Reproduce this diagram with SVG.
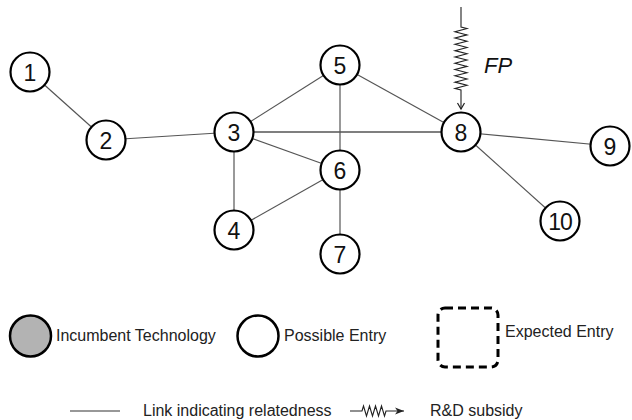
<svg xmlns="http://www.w3.org/2000/svg" width="632" height="420" viewBox="0 0 632 420">
<style>
.edge{stroke:#555;stroke-width:1.2;fill:none}
.node circle{fill:#fff;stroke:#000;stroke-width:2.2}
.num{font-family:"Liberation Sans",Arial,sans-serif;font-size:23px;fill:#111;text-anchor:middle}
.lbl{font-family:"Liberation Sans",Arial,sans-serif;font-size:16px;fill:#222}
.zz{stroke:#222;stroke-width:1.1;fill:none}
</style>
<defs>
<marker id="openArrow" markerWidth="10" markerHeight="10" refX="8" refY="5" orient="auto" markerUnits="userSpaceOnUse">
<path d="M2,1.5 L8,5 L2,8.5" fill="none" stroke="#222" stroke-width="1.2"/>
</marker>
<marker id="solidArrow" markerWidth="12" markerHeight="10" refX="9" refY="5" orient="auto" markerUnits="userSpaceOnUse">
<path d="M0,1.5 L9,5 L0,8.5 L2.5,5 Z" fill="#222"/>
</marker>
</defs>
<g id="connectors">
<line class="edge" x1="30" y1="72" x2="106" y2="140"/>
<line class="edge" x1="106" y1="140" x2="234" y2="132"/>
<line class="edge" x1="234" y1="132" x2="340" y2="65"/>
<line class="edge" x1="234" y1="132" x2="461" y2="132" style="stroke-width:1.6"/>
<line class="edge" x1="234" y1="132" x2="340" y2="170"/>
<line class="edge" x1="234" y1="132" x2="234" y2="230"/>
<line class="edge" x1="340" y1="65" x2="340" y2="170"/>
<line class="edge" x1="340" y1="65" x2="461" y2="132"/>
<line class="edge" x1="234" y1="230" x2="340" y2="170"/>
<line class="edge" x1="340" y1="170" x2="340" y2="254"/>
<line class="edge" x1="461" y1="132" x2="610" y2="146"/>
<line class="edge" x1="461" y1="132" x2="560" y2="221"/>
<path id="fp-arrow" class="zz" marker-end="url(#openArrow)" d="M461,7 V27 l6,1.575 l-12,3.15 l12,3.15 l-12,3.15 l12,3.15 l-12,3.15 l12,3.15 l-12,3.15 l12,3.15 l-12,3.15 l12,3.15 l-12,3.15 l12,3.15 l-12,3.15 l12,3.15 l-12,3.15 l12,3.15 l-12,3.15 l12,3.15 l-12,3.15 l6,1.575 V109"/>
</g>
<text x="484" y="73" style="font-family:'Liberation Sans',Arial,sans-serif;font-size:22px;font-style:italic;fill:#111">FP</text>
<g id="node1" class="node"><circle cx="30" cy="72" r="19.5"/><text class="num" x="30" y="80.5">1</text></g>
<g id="node2" class="node"><circle cx="106" cy="140" r="19.5"/><text class="num" x="106" y="148.5">2</text></g>
<g id="node3" class="node"><circle cx="234" cy="132" r="19.5"/><text class="num" x="234" y="140.5">3</text></g>
<g id="node4" class="node"><circle cx="234" cy="230" r="19.5"/><text class="num" x="234" y="238.5">4</text></g>
<g id="node5" class="node"><circle cx="340" cy="65" r="19.5"/><text class="num" x="340" y="73.5">5</text></g>
<g id="node6" class="node"><circle cx="340" cy="170" r="19.5"/><text class="num" x="340" y="178.5">6</text></g>
<g id="node7" class="node"><circle cx="340" cy="254" r="19.5"/><text class="num" x="340" y="262.5">7</text></g>
<g id="node8" class="node"><circle cx="461" cy="132" r="19.5"/><text class="num" x="461" y="140.5">8</text></g>
<g id="node9" class="node"><circle cx="610" cy="146" r="19.5"/><text class="num" x="610" y="154.5">9</text></g>
<g id="node10" class="node"><circle cx="560" cy="221" r="19.5"/><text class="num" x="560" y="229.5" style="letter-spacing:-1px">10</text></g>
<g id="legend">
<circle cx="30.5" cy="336" r="20.5" fill="#b3b3b3" stroke="#000" stroke-width="2.5"/>
<text class="lbl" x="56" y="341">Incumbent Technology</text>
<circle cx="258" cy="336" r="20.5" fill="#fff" stroke="#000" stroke-width="2.5"/>
<text class="lbl" x="284" y="341">Possible Entry</text>
<rect x="438" y="308" width="60" height="59" rx="7" fill="none" stroke="#000" stroke-width="3" stroke-dasharray="8,5"/>
<text class="lbl" x="505" y="337">Expected Entry</text>
<line x1="70" y1="411" x2="120" y2="411" stroke="#333" stroke-width="1.1"/>
<text class="lbl" x="143" y="416">Link indicating relatedness</text>
<path class="zz" marker-end="url(#solidArrow)" d="M350,411 H362 l1.5,-5 l3,10 l3,-10 l3,10 l3,-10 l3,10 l3,-10 l3,10 l1.5,-5 H404"/>
<text class="lbl" x="430" y="416">R&amp;D subsidy</text>
</g>
</svg>
